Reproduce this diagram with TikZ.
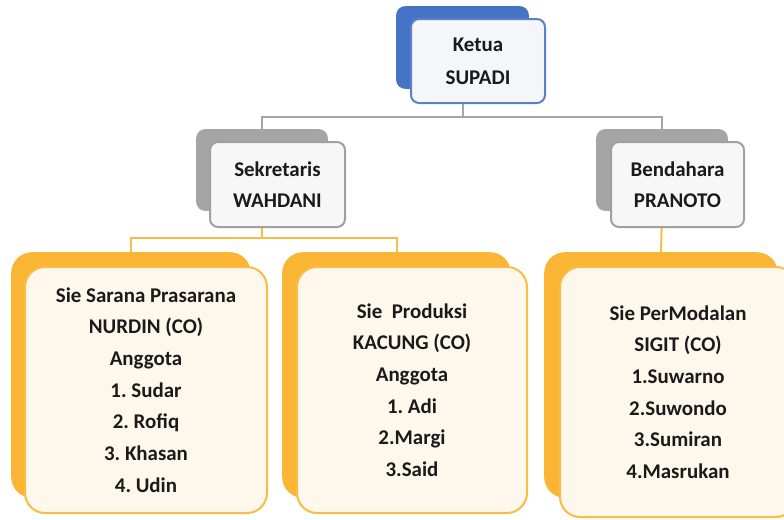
\documentclass[tikz,border=0pt]{standalone}
\usepackage{fontspec}
\setmainfont{Carlito}
\usetikzlibrary{backgrounds}
\frenchspacing
\definecolor{bluedark}{HTML}{4472C4}
\definecolor{blueline}{HTML}{5B80CA}
\definecolor{bluefill}{HTML}{F4F6FA}
\definecolor{graydark}{HTML}{A5A5A5}
\definecolor{grayline}{HTML}{A0A0A0}
\definecolor{grayfill}{HTML}{F7F7F7}
\definecolor{orangedark}{HTML}{F9B533}
\definecolor{orangeline}{HTML}{F9BC45}
\definecolor{creamfill}{HTML}{FEF8EC}
\definecolor{conngray}{HTML}{A6A6A6}
\definecolor{textcol}{HTML}{1A1A1A}
\tikzset{
  sz/.style 2 args={minimum width=#1*0.75pt, minimum height=#2*0.75pt, inner sep=0pt},
  bluebk/.style={draw=bluedark, fill=bluedark, line width=1.2pt, rounded corners=6pt},
  bluefr/.style={draw=blueline, fill=bluefill, line width=1.5pt, rounded corners=6pt,
     align=center, text=textcol, font=\fontsize{15.7pt}{24.5pt}\selectfont\bfseries},
  graybk/.style={draw=graydark, fill=graydark, line width=1.2pt, rounded corners=6pt},
  grayfr/.style={draw=grayline, fill=grayfill, line width=1.5pt, rounded corners=6pt,
     align=center, text=textcol, font=\fontsize{15.7pt}{23pt}\selectfont\bfseries},
  orbk/.style={draw=orangedark, fill=orangedark, line width=1.2pt, rounded corners=15pt},
  orfr/.style={draw=orangeline, fill=creamfill, line width=1.5pt, rounded corners=15pt,
     align=center, text=textcol, font=\fontsize{15.7pt}{23.75pt}\selectfont\bfseries},
  gconn/.style={draw=conngray, line width=1.5pt},
  oconn/.style={draw=orangeline, line width=1.5pt},
}
\begin{document}
\begin{tikzpicture}[x=0.75pt,y=-0.75pt]
\useasboundingbox (0,0) rectangle (784,519);
% top level
\node[bluebk, sz={131}{81}] (ketuaB) at (462.5,47.5) {};
\node[bluefr, sz={134}{84}] (ketuaF) at (478,61) {Ketua\\SUPADI};
% second level
\node[graybk, sz={130}{80}] (sekB) at (262,170) {};
\node[grayfr, sz={135}{85}] (sekF) at (277.5,184.5) {Sekretaris\\WAHDANI};
\node[graybk, sz={130}{80}] (benB) at (662,170) {};
\node[grayfr, sz={133}{85}] (benF) at (677.5,184.5) {Bendahara\\PRANOTO};
% third level
\node[orbk, sz={238}{244}] (s1B) at (131,375) {};
\node[orfr, sz={242}{246}] (s1F) at (146,390) {Sie Sarana Prasarana\\NURDIN (CO)\\Anggota\\1. Sudar\\2. Rofiq\\3. Khasan\\4. Udin};
\node[orbk, sz={227}{244}] (s2B) at (396.5,375) {};
\node[orfr, sz={230}{246}] (s2F) at (412,390) {Sie\ \ Produksi\\KACUNG (CO)\\Anggota\\1. Adi\\2.Margi\\3.Said};
\node[orbk, sz={232}{244}] (s3B) at (661,375) {};
\node[orfr, sz={236}{250}] (s3F) at (678,392) {Sie PerModalan\\SIGIT (CO)\\1.Suwarno\\2.Suwondo\\3.Sumiran\\4.Masrukan};
% connectors
\coordinate (bus1) at (462.5,117);
\coordinate (bus2) at (262,238);
\begin{scope}[on background layer]
\draw[gconn] (ketuaB.south) -- (bus1) -| (sekB.north);
\draw[gconn] (bus1) -| (benB.north);
\draw[oconn] (sekB.south) -- (bus2) -| (s1B.north);
\draw[oconn] (bus2) -| (s2B.north);
\draw[oconn] (benB.south) -- (s3B.north);
\end{scope}
\end{tikzpicture}
\end{document}
